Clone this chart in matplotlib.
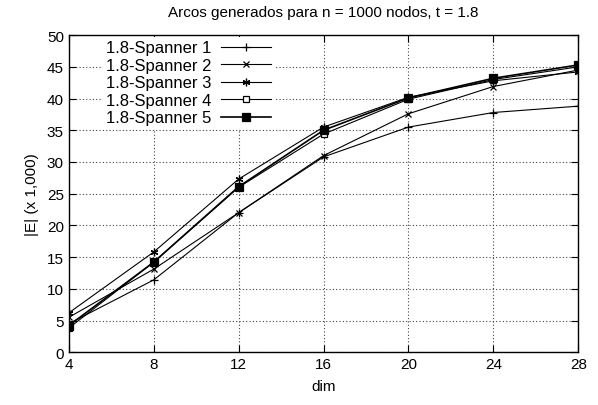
import matplotlib.pyplot as plt

plt.rcParams['font.family'] = ['Liberation Sans', 'DejaVu Sans']

# dimension values on the x axis
dims = [4, 8, 12, 16, 20, 24, 28]

# |E| in thousands for each spanner run
spanner1 = [4.5, 11.4, 22.0, 30.8, 35.5, 37.8, 38.8]
spanner2 = [5.5, 13.1, 22.0, 31.0, 37.6, 41.9, 44.5]
spanner3 = [6.2, 15.8, 27.3, 35.5, 40.2, 42.8, 44.2]
spanner4 = [3.8, 14.2, 26.0, 34.4, 39.9, 43.0, 45.0]
spanner5 = [4.2, 14.2, 26.1, 35.0, 40.1, 43.2, 45.3]

labels = ['1.8-Spanner 1', '1.8-Spanner 2', '1.8-Spanner 3',
          '1.8-Spanner 4', '1.8-Spanner 5']
series = [spanner1, spanner2, spanner3, spanner4, spanner5]

fig = plt.figure(figsize=(5.98, 4.06), dpi=100)
ax = fig.add_axes([0.115, 0.13, 0.852, 0.781])

styles = [
    dict(marker='+', ms=6, mew=0.9, lw=0.8, mfc='black'),
    dict(marker='x', ms=4.5, mew=0.9, lw=0.8, mfc='black'),
    dict(marker=(6, 2, 0), ms=5.5, mew=0.9, lw=0.8, mfc='black'),
    dict(marker='s', ms=4.5, mew=0.9, lw=0.8, mfc='white'),
    dict(marker='s', ms=6, mew=0.9, lw=1.2, mfc='black'),
]

for vals, lab, st in zip(series, labels, styles):
    ax.plot(dims, vals, color='black', mec='black', label=lab, **st)

ax.set_xlim(4, 28)
ax.set_ylim(0, 50)
ax.set_xticks(dims)
ax.set_yticks(range(0, 51, 5))
ax.tick_params(direction='in', top=True, right=True, labelsize=11, length=5)
ax.grid(True, color='#444444', linestyle=(0, (1, 2)), linewidth=0.8)
for sp in ax.spines.values():
    sp.set_linewidth(1.0)

ax.set_title('Arcos generados para n = 1000 nodos, t = 1.8', fontsize=11, pad=14)
ax.set_xlabel('dim', fontsize=11, labelpad=6)
ax.set_ylabel('|E| (x 1,000)', fontsize=11, labelpad=6)

leg = ax.legend(loc='upper left', bbox_to_anchor=(0.05, 1.02), markerfirst=False,
                fontsize=12, frameon=True, fancybox=False, framealpha=1,
                edgecolor='none', borderpad=0.2, labelspacing=0.15,
                handlelength=3.0, handletextpad=0.6)

fig.savefig('out.png', dpi=100)
